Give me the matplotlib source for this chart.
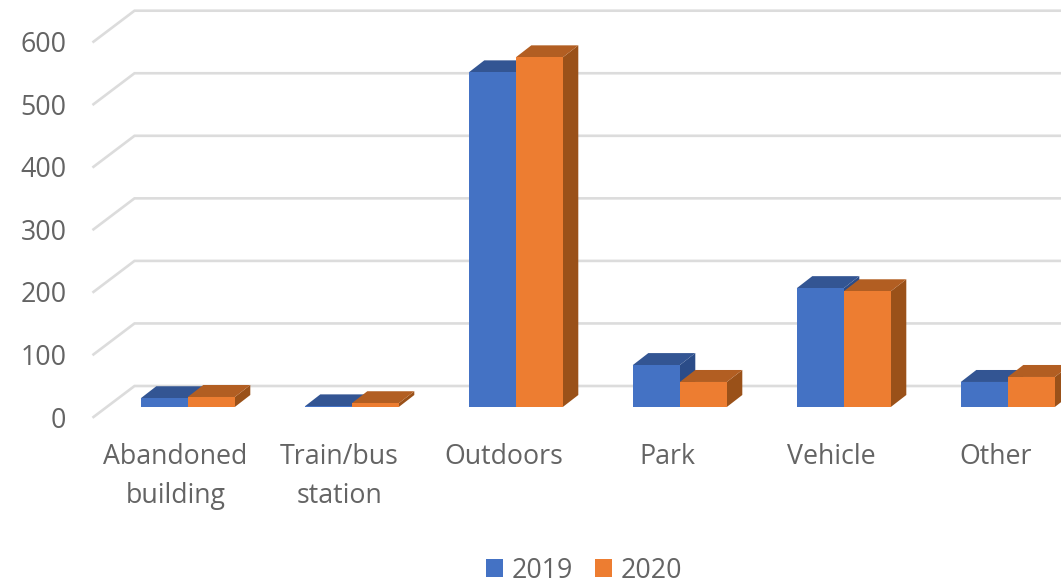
import matplotlib
matplotlib.use("Agg")
import matplotlib.pyplot as plt
from matplotlib.patches import Polygon, Patch

categories = ["Abandoned\nbuilding", "Train/bus\nstation", "Outdoors", "Park", "Vehicle", "Other"]
years = ["2019", "2020"]
values_2019 = [14, 1, 535, 67, 190, 40]
values_2020 = [16, 6, 559, 40, 185, 48]
y_ticks = [0, 100, 200, 300, 400, 500, 600]

W, H = 1061, 584
PX_X = 164.0      # pixels per category
PX_Y = 0.6255     # pixels per value unit
AX_L, AX_B = 93.5, 417.0

plt.rcParams["font.family"] = ["Open Sans", "DejaVu Sans"]
fig = plt.figure(figsize=(W / 100, H / 100), dpi=100, facecolor="white")
ax = fig.add_axes([AX_L / W, (H - AX_B) / H, (W - AX_L) / W, (AX_B - 41.7) / H])
ax.set_xlim(-0.5, -0.5 + (W - AX_L) / PX_X)
ax.set_ylim(0, 600)
for s in ax.spines.values():
    s.set_visible(False)
ax.patch.set_alpha(0)

def dx(px):
    return px / PX_X

def dy(px):
    return px / PX_Y

GRID = "#DCDCDC"
x_left = -0.5
x_right = ax.get_xlim()[1]
for v in y_ticks:
    ax.plot([x_left, x_left + dx(41), x_right], [v, v + dy(31), v + dy(31)],
            color=GRID, lw=1.9, clip_on=False, zorder=1, solid_joinstyle="miter")

bar_w = 47 / PX_X
shift = 12.3 / PX_X
lift = dy(10)
dep_x, dep_y = dx(15.5), dy(12)
series = [
    (values_2019, -bar_w / 2, "#4472C4", "#335593", "#2B4C88"),
    (values_2020, bar_w / 2, "#ED7D31", "#B25E22", "#9A5119"),
]
z = 3
for vals, off, front, top, side in series:
    for i, v in enumerate(vals):
        xc = i + shift + off
        x0, x1 = xc - bar_w / 2, xc + bar_w / 2
        y0, y1 = lift, lift + v
        ax.add_patch(Polygon([(x1, y0), (x1 + dep_x, y0 + dep_y), (x1 + dep_x, y1 + dep_y), (x1, y1)],
                             closed=True, fc=side, ec="none", zorder=z, clip_on=False))
        ax.add_patch(Polygon([(x0, y1), (x0 + dep_x, y1 + dep_y), (x1 + dep_x, y1 + dep_y), (x1, y1)],
                             closed=True, fc=top, ec="none", zorder=z, clip_on=False))
        ax.bar(xc, v, width=bar_w, bottom=lift, color=front, zorder=z + 0.5, clip_on=False)
    z += 1

TXT = "#646464"
FS = 19.3
ax.set_xticks(range(len(categories)))
ax.set_xticklabels(categories, fontsize=FS, color=TXT, linespacing=1.5)
ax.set_yticks(y_ticks)
ax.set_yticklabels([str(t) for t in y_ticks], fontsize=FS, color=TXT)
ax.tick_params(axis="x", length=0, pad=19)
ax.tick_params(axis="y", length=0, pad=19.5)

handles = [Patch(facecolor="#4472C4", label=years[0]), Patch(facecolor="#ED7D31", label=years[1])]
fig.legend(handles=handles, loc="center", bbox_to_anchor=(584 / W, (H - 570.5) / H), ncol=2,
           frameon=False, fontsize=FS, labelcolor=TXT, handlelength=0.62, handleheight=0.62,
           handletextpad=0.32, columnspacing=0.85, borderpad=0, borderaxespad=0)

fig.savefig("out.png", dpi=100, facecolor="white")
